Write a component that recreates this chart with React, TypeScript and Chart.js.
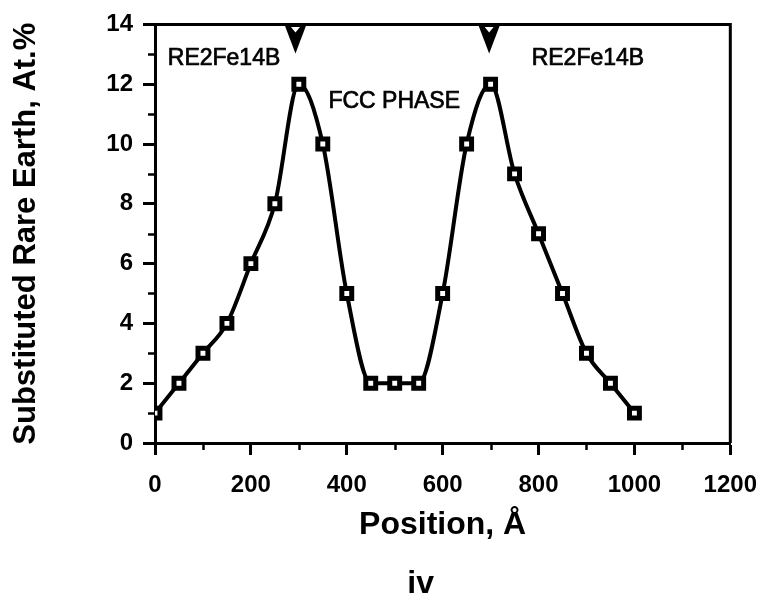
import { useEffect, useRef } from 'react';
import { Chart, registerables } from 'chart.js';

Chart.register(...registerables);

// Sampling positions across the multilayer (Å) and measured rare-earth content (at.%)
const positions = [0, 50, 100, 150, 200, 250, 300, 350, 400, 450, 500, 550, 600, 650, 700, 750, 800, 850, 900, 950, 1000];
const reContent = [1, 2, 3, 4, 6, 8, 12, 10, 5, 2, 2, 2, 5, 10, 12, 9, 7, 5, 3, 2, 1];

// Phase boundary markers along the top edge (Å)
const boundaryPositions = [293, 697];

// Phase region labels, anchored in data units
const phaseLabels = ['RE2Fe14B', 'FCC PHASE', 'RE2Fe14B'];
const phaseLabelX = [144, 499, 903];
const phaseLabelY = [12.86, 11.41, 12.86];

// Unlabelled minor ticks
const xMinorTicks = [100, 300, 500, 700, 900, 1100];
const yMinorTicks = [1, 3, 5, 7, 9, 11, 13];

const panelLabel = 'iv';

const FONT = '"Liberation Sans", Arial, Helvetica, sans-serif';

const decorations = {
  id: 'decorations',
  beforeDraw(chart: any) {
    const { ctx, width, height } = chart;
    ctx.save();
    ctx.fillStyle = '#fff';
    ctx.fillRect(0, 0, width, height);
    ctx.restore();
  },
  afterDatasetsDraw(chart: any) {
    const { ctx, scales } = chart;
    const xs = scales.x;
    const ys = scales.y;
    ctx.save();
    ctx.fillStyle = '#000';
    ctx.strokeStyle = '#000';
    ctx.lineWidth = 0.7;
    ctx.textBaseline = 'middle';
    ctx.textAlign = 'center';
    ctx.font = `23px ${FONT}`;
    phaseLabels.forEach((t, i) => {
      const px = xs.getPixelForValue(phaseLabelX[i]);
      const py = ys.getPixelForValue(phaseLabelY[i]);
      ctx.fillText(t, px, py);
      ctx.strokeText(t, px, py);
    });
    ctx.restore();
  },
  afterDraw(chart: any) {
    const { ctx, chartArea, scales } = chart;
    const xs = scales.x;
    const ys = scales.y;
    const { left, right, top, bottom } = chartArea;
    ctx.save();
    ctx.strokeStyle = '#000';
    ctx.lineWidth = 3;
    // top and right frame
    ctx.beginPath();
    ctx.moveTo(left, top);
    ctx.lineTo(right, top);
    ctx.lineTo(right, bottom);
    ctx.stroke();

    // minor ticks
    ctx.lineWidth = 2.5;
    ctx.beginPath();
    xMinorTicks.forEach((v) => {
      const px = Math.round(xs.getPixelForValue(v)) + 0.5;
      ctx.moveTo(px, bottom);
      ctx.lineTo(px, bottom + 7);
    });
    yMinorTicks.forEach((v) => {
      const py = Math.round(ys.getPixelForValue(v)) + 0.5;
      ctx.moveTo(left, py);
      ctx.lineTo(left - 7, py);
    });
    ctx.stroke();

    // phase boundary triangles
    boundaryPositions.forEach((v) => {
      const px = xs.getPixelForValue(v);
      const py = ys.getPixelForValue(14);
      ctx.fillStyle = '#000';
      ctx.beginPath();
      ctx.moveTo(px - 11, py);
      ctx.lineTo(px + 11, py);
      ctx.lineTo(px, py + 29);
      ctx.closePath();
      ctx.fill();
      ctx.fillStyle = '#fff';
      ctx.beginPath();
      ctx.moveTo(px - 4.5, py + 2.5);
      ctx.lineTo(px + 4.5, py + 2.5);
      ctx.lineTo(px, py + 8);
      ctx.closePath();
      ctx.fill();
    });

    // panel label
    ctx.fillStyle = '#000';
    ctx.font = `bold 32px ${FONT}`;
    ctx.textAlign = 'center';
    ctx.textBaseline = 'alphabetic';
    ctx.fillText(panelLabel, (left + right) / 2 - 22, chart.height - 11);
    ctx.restore();
  },
};

export default function App() {
  const ref = useRef<HTMLCanvasElement>(null);

  useEffect(() => {
    const canvas = ref.current;
    if (!canvas) return;
    Chart.defaults.font.family = FONT;
    const chart = new Chart(canvas, {
      type: 'line',
      data: {
        datasets: [
          {
            data: positions.map((x, i) => ({ x, y: reContent[i] })),
            borderColor: '#000',
            borderWidth: 4,
            cubicInterpolationMode: 'monotone',
            pointStyle: 'rect',
            pointRadius: 7,
            pointBorderWidth: 5,
            pointBackgroundColor: '#fff',
            pointBorderColor: '#000',
            fill: false,
          },
        ],
      },
      options: {
        animation: false,
        responsive: false,
        devicePixelRatio: 1,
        layout: { padding: { top: 18, right: 36, left: 0, bottom: 0 } },
        plugins: {
          legend: { display: false },
          tooltip: { enabled: false },
        },
        scales: {
          x: {
            type: 'linear',
            min: 0,
            max: 1200,
            ticks: {
              stepSize: 200,
              color: '#000',
              font: { size: 24, weight: 'bold' },
              padding: 16,
              maxRotation: 0,
              autoSkip: false,
              callback: (v: any) => String(v),
            },
            grid: { drawOnChartArea: false, tickLength: 12, tickWidth: 3, tickColor: '#000' },
            border: { color: '#000', width: 3 },
            title: {
              display: true,
              text: 'Position, Å',
              color: '#000',
              font: { size: 32, weight: 'bold' },
              padding: { top: 0, bottom: 60 },
            },
            afterFit(s: any) {
              s.height = 161;
            },
          },
          y: {
            type: 'linear',
            min: 0,
            max: 14,
            ticks: {
              stepSize: 2,
              color: '#000',
              font: { size: 24, weight: 'bold' },
              padding: 10,
              callback: (v: any) => String(v),
            },
            grid: { drawOnChartArea: false, tickLength: 12, tickWidth: 3, tickColor: '#000' },
            border: { color: '#000', width: 3 },
            title: {
              display: true,
              text: 'Substituted Rare Earth, At.%',
              color: '#000',
              font: { size: 31, weight: 'bold' },
              padding: { top: 8, bottom: 0 },
            },
            afterFit(s: any) {
              s.width = 155;
            },
          },
        },
      },
      plugins: [decorations],
    } as any);
    return () => chart.destroy();
  }, []);

  return (
    <div style={{ position: 'absolute', left: 0, top: 0, width: 773, height: 604 }}>
      <canvas ref={ref} width={773} height={604} />
    </div>
  );
}
